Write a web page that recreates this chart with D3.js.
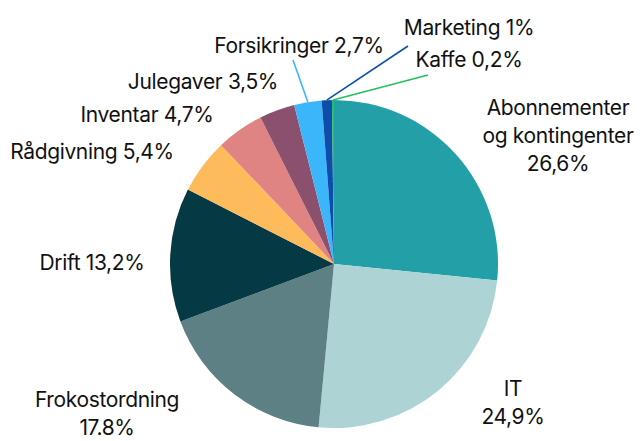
<!DOCTYPE html>
<html>
<head>
<meta charset="utf-8">
<script src="https://cdn.jsdelivr.net/npm/d3@7"></script>
<style>
  body { margin: 0; background: #fff; }
  text { font-family: Inter, 'Noto Sans', sans-serif; fill: #111; }
</style>
</head>
<body>
<div id="chart"></div>
<script>
let categories = ['Abonnementer og kontingenter', 'IT', 'Frokostordning', 'Drift', 'Rådgivning',
  'Inventar', 'Julegaver', 'Forsikringer', 'Marketing', 'Kaffe']
let values = [26.6, 24.9, 17.8, 13.2, 5.4, 4.7, 3.5, 2.7, 1, 0.2]
let valueLabels = ['26,6%', '24,9%', '17.8%', '13,2%', '5,4%', '4,7%', '3,5%', '2,7%', '1%', '0,2%']
let colors = ['#239fa8', '#aed3d5', '#5c8084', '#053a44', '#fdbb5b',
  '#e08383', '#8a506e', '#3cb6fb', '#0d4ead', '#22c15e']

// label layout: lines of text, anchor point (center), and optional leader line end
let labelLayout = [
  { lines: ['Abonnementer', 'og kontingenter', '26,6%'], x: 558, y: 107 },
  { lines: ['IT', '24,9%'], x: 513, y: 388 },
  { lines: ['Frokostordning', '17.8%'], x: 107, y: 399 },
  { lines: ['Drift 13,2%'], x: 92, y: 262 },
  { lines: ['Rådgivning 5,4%'], x: 92, y: 151 },
  { lines: ['Inventar 4,7%'], x: 147, y: 114 },
  { lines: ['Julegaver 3,5%'], x: 203, y: 81 },
  { lines: ['Forsikringer 2,7%'], x: 299, y: 45, line: [293, 60] },
  { lines: ['Marketing 1%'], x: 469, y: 27, line: [408, 46] },
  { lines: ['Kaffe 0,2%'], x: 469, y: 59, line: [428, 75] }
]

let width = 641
let height = 441
let cx = 334
let cy = 264
let radius = 164

let svg = d3.select('#chart')
  .append('svg')
  .attr('width', width)
  .attr('height', height)

let g = svg.append('g')
  .attr('transform', 'translate(' + cx + ',' + cy + ')')

let data = categories.map((c, i) => ({ name: c, value: values[i], label: valueLabels[i], i: i }))

let pie = d3.pie().sort(null).value(d => d.value)
let arc = d3.arc().innerRadius(0).outerRadius(radius)
let arcs = pie(data)

g.selectAll('.slice')
  .data(arcs)
  .enter()
  .append('path')
  .attr('class', 'slice')
  .attr('d', arc)
  .attr('fill', d => colors[d.data.i])

// leader lines for the tiny slices
let edge = d3.arc().innerRadius(radius).outerRadius(radius)
g.selectAll('.leader')
  .data(arcs.filter(d => labelLayout[d.data.i].line))
  .enter()
  .append('line')
  .attr('class', 'leader')
  .attr('x1', d => edge.centroid(d)[0])
  .attr('y1', d => edge.centroid(d)[1])
  .attr('x2', d => labelLayout[d.data.i].line[0] - cx)
  .attr('y2', d => labelLayout[d.data.i].line[1] - cy)
  .attr('stroke', d => colors[d.data.i])
  .attr('stroke-width', 1.6)

let labels = svg.selectAll('.label')
  .data(arcs)
  .enter()
  .append('text')
  .attr('class', 'label')
  .attr('text-anchor', 'middle')
  .attr('font-size', 21)
  .attr('letter-spacing', '-0.35px')

labels.each(function(d) {
  let lay = labelLayout[d.data.i]
  let t = d3.select(this)
  lay.lines.forEach((l, k) => {
    t.append('tspan')
      .attr('x', lay.x)
      .attr('y', lay.y + k * 28)
      .attr('dy', '0.36em')
      .text(l)
  })
})
</script>
</body>
</html>
